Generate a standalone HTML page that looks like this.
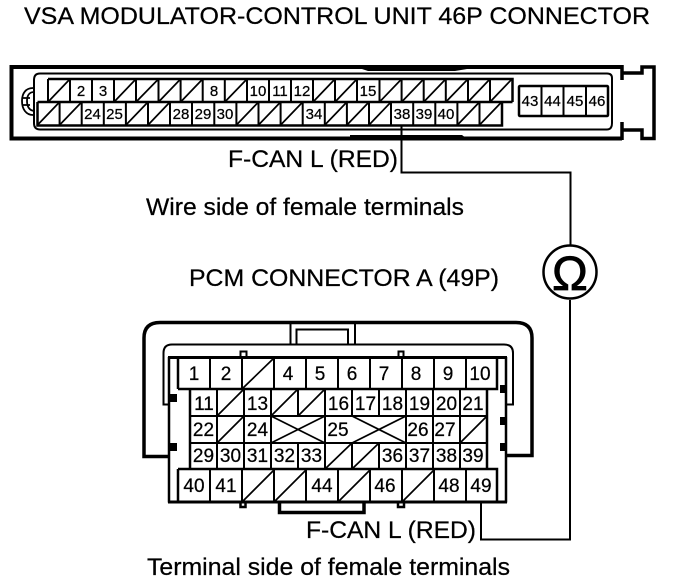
<!DOCTYPE html>
<html><head><meta charset="utf-8"><style>
html,body{margin:0;padding:0;background:#fff;width:688px;height:580px;overflow:hidden}
svg{display:block}
text{font-family:"Liberation Sans",sans-serif;fill:#000;stroke:#000;stroke-width:.25px}
.t{font-size:24px}
.s{font-size:15px;text-anchor:middle}
.b{font-size:19px;text-anchor:middle}
</style></head><body>
<svg width="688" height="580" viewBox="0 0 688 580" xmlns="http://www.w3.org/2000/svg">
<rect width="688" height="580" fill="#fff"/>
<text class="t" x="24" y="24" textLength="626" lengthAdjust="spacingAndGlyphs">VSA MODULATOR-CONTROL UNIT 46P CONNECTOR</text>
<text class="t" x="228" y="167" textLength="170" lengthAdjust="spacingAndGlyphs">F-CAN L (RED)</text>
<text class="t" x="146" y="215" textLength="318" lengthAdjust="spacingAndGlyphs">Wire side of female terminals</text>
<text class="t" x="189" y="286" textLength="310" lengthAdjust="spacingAndGlyphs">PCM CONNECTOR A (49P)</text>
<text class="t" x="306" y="538" textLength="170" lengthAdjust="spacingAndGlyphs">F-CAN L (RED)</text>
<text class="t" x="147" y="575" textLength="363" lengthAdjust="spacingAndGlyphs">Terminal side of female terminals</text>

<!-- top connector -->
<g fill="none" stroke="#000">
<path d="M622 67H11.500V138.500H622" stroke-width="4"/>
<path d="M622 65V80M622 122V140" stroke-width="3.500"/>
<path d="M622 73H642V67H654V138.500H642V130H622" stroke-width="3.500"/>
<path d="M612 123V78Q612 73.500 607 73.500H40Q34 73.500 34 80V123Q34 129.500 40 129.500H607Q612 129.500 612 123Z" stroke-width="2"/>
<path d="M33 88C26 88 22 93 22 101C22 109 26 115 33 115M34 92C29 92 27 96 27 101C27 106 29 111 35 111M23 98H30M23 105H30" stroke-width="1.800"/>
<path d="M48 79H512.500V102M37.500 102H512.500M37.500 102V125.500H502V102" stroke-width="2.500"/>
<path d="M48 79V102M70 79V102M92 79V102M114 79V102M136 79V102M158.500 79V102M180.600 79V102M202.700 79V102M224.800 79V102M247 79V102M269 79V102M291 79V102M313 79V102M335 79V102M357 79V102M379.500 79V102M401.600 79V102M423.700 79V102M445.800 79V102M468 79V102M490 79V102" stroke-width="2"/>
<path d="M59.600 102V125M81.700 102V125M103.800 102V125M125.900 102V125M148 102V125M170 102V125M192 102V125M214.300 102V125M236.400 102V125M258.500 102V125M280.600 102V125M302.700 102V125M324.800 102V125M346.900 102V125M369 102V125M391 102V125M413.200 102V125M435.300 102V125M457.400 102V125M479.500 102V125" stroke-width="2"/>
<path d="M48 102L70 79M114 102L136 79M136 102L158.500 79M158.500 102L180.600 79M180.600 102L202.700 79M224.800 102L247 79M313 102L335 79M335 102L357 79M379.500 102L401.600 79M401.600 102L423.700 79M423.700 102L445.800 79M445.800 102L468 79M468 102L490 79M490 102L512 79" stroke-width="1.700"/>
<path d="M37.500 125L59.600 102M59.600 125L81.700 102M125.900 125L148 102M148 125L170 102M236.400 125L258.500 102M258.500 125L280.600 102M280.600 125L302.700 102M324.800 125L346.900 102M346.900 125L369 102M369 125L391 102M457.400 125L479.500 102M479.500 125L501.600 102" stroke-width="1.700"/>
<rect x="519" y="86" width="89" height="30" rx="1" stroke-width="2.500"/>
<path d="M541.500 86V116M563.500 86V116M586 86V116" stroke-width="2"/>
<path d="M401.500 125V172.500H570.500V246" stroke-width="2"/>
<circle cx="570" cy="272" r="26.500" stroke-width="2.500"/>
<path d="M570 300V539.500H481V501" stroke-width="2"/>
</g>
<path d="M350 65H470L473 68L455 71H368Z" fill="#000"/>
<path d="M350 135H462L466 138H350Z" fill="#000"/>
<text x="570" y="290" text-anchor="middle" style="font-size:48px;stroke-width:.8px">Ω</text>
<g>
<text class="s" x="81" y="96">2</text><text class="s" x="103" y="96">3</text><text class="s" x="214" y="96">8</text><text class="s" x="258" y="96">10</text><text class="s" x="280" y="96">11</text><text class="s" x="302" y="96">12</text><text class="s" x="368" y="96">15</text>
<text class="s" x="92.500" y="119">24</text><text class="s" x="114.500" y="119">25</text><text class="s" x="181" y="119">28</text><text class="s" x="203" y="119">29</text><text class="s" x="225" y="119">30</text><text class="s" x="314" y="119">34</text><text class="s" x="402" y="119">38</text><text class="s" x="424" y="119">39</text><text class="s" x="446" y="119">40</text>
<text class="s" x="530" y="106">43</text><text class="s" x="552.500" y="106">44</text><text class="s" x="575" y="106">45</text><text class="s" x="597" y="106">46</text>
</g>

<!-- bottom connector -->
<g fill="none" stroke="#000">
<path d="M170 456.500H144V338Q144 322.500 160 322.500H516Q532 322.500 532 338V455.500H506" stroke-width="3.500"/>
<path d="M170 404.500H163.500V353Q163.500 344.500 172 344.500H504Q513 344.500 513 353V404.500H506" stroke-width="2"/>
<path d="M290.500 322V345M355 322V345" stroke-width="2"/>
<path d="M296.500 345V329.500H348V345" stroke-width="2"/>
<path d="M169 357V502.500M506 357V502.500" stroke-width="2.500"/>
<path d="M168 357.500H507M168 502H507" stroke-width="3"/>
<path d="M178 357.500V389M178 389H497V357.500M178 469H497V502M178 469V502" stroke-width="2.500"/>
<path d="M210 358V389M242 358V389M274 358V389M306 358V389M338 358V389M370 358V389M402 358V389M434 358V389M466 358V389" stroke-width="2"/>
<path d="M210 469V502M242 469V502M274 469V502M306 469V502M338 469V502M370 469V502M402 469V502M434 469V502M466 469V502" stroke-width="2"/>
<path d="M242 389L274 358M242 502L274 470M274 502L306 470M338 502L370 470M402 502L434 470" stroke-width="1.700"/>
<path d="M190 389V469M487 389V469" stroke-width="2.500"/>
<path d="M190 416H487M190 443H487" stroke-width="2"/>
<path d="M217 389V469M244 389V469M271 389V469M298 389V416M298 443V469M325 389V469M352 389V416M352 443V469M379 389V416M379 443V469M406 389V469M433 389V469M460 389V469" stroke-width="2"/>
<path d="M217 416L244 389M217 443L244 416M271 416L298 389M298 416L325 389M271 416L325 443M271 443L325 416M352 416L406 443M352 443L406 416M460 443L487 416M325 469L352 443M352 469L379 443" stroke-width="1.700"/>
<path d="M279.500 503V512.500H364V503" stroke-width="3.500"/>
<rect x="240.500" y="351.500" width="6" height="6" stroke-width="2"/>
<rect x="398.500" y="351.500" width="5" height="6" stroke-width="2"/>
<rect x="240.500" y="502" width="5" height="5" stroke-width="2.500"/>
<rect x="398" y="502" width="6" height="5" stroke-width="2.500"/>
</g>
<g fill="#000">
<rect x="170" y="394" width="7" height="8"/><rect x="170" y="443" width="7" height="8"/>
<rect x="500" y="385" width="6" height="8"/><rect x="500" y="417" width="6" height="8"/><rect x="500" y="443" width="6" height="8"/>
</g>
<text class="b" x="194" y="380">1</text><text class="b" x="226" y="380">2</text><text class="b" x="288" y="380">4</text><text class="b" x="320" y="380">5</text><text class="b" x="352" y="380">6</text><text class="b" x="384" y="380">7</text><text class="b" x="416" y="380">8</text><text class="b" x="448" y="380">9</text><text class="b" x="480" y="380">10</text>
<text class="b" x="204" y="410">11</text><text class="b" x="257.500" y="410">13</text><text class="b" x="338.500" y="410">16</text><text class="b" x="365.500" y="410">17</text><text class="b" x="392.500" y="410">18</text><text class="b" x="419.500" y="410">19</text><text class="b" x="446.500" y="410">20</text><text class="b" x="473" y="410">21</text>
<text class="b" x="203.500" y="436">22</text><text class="b" x="257.500" y="436">24</text><text class="b" x="338" y="436">25</text><text class="b" x="418" y="436">26</text><text class="b" x="445" y="436">27</text>
<text class="b" x="203.500" y="462">29</text><text class="b" x="230.500" y="462">30</text><text class="b" x="257.500" y="462">31</text><text class="b" x="284.500" y="462">32</text><text class="b" x="311.500" y="462">33</text><text class="b" x="392.500" y="462">36</text><text class="b" x="419.500" y="462">37</text><text class="b" x="446.500" y="462">38</text><text class="b" x="473" y="462">39</text>
<text class="b" x="194" y="492">40</text><text class="b" x="226" y="492">41</text><text class="b" x="322" y="492">44</text><text class="b" x="385" y="492">46</text><text class="b" x="449" y="492">48</text><text class="b" x="481" y="492">49</text>
</svg>
</body></html>
